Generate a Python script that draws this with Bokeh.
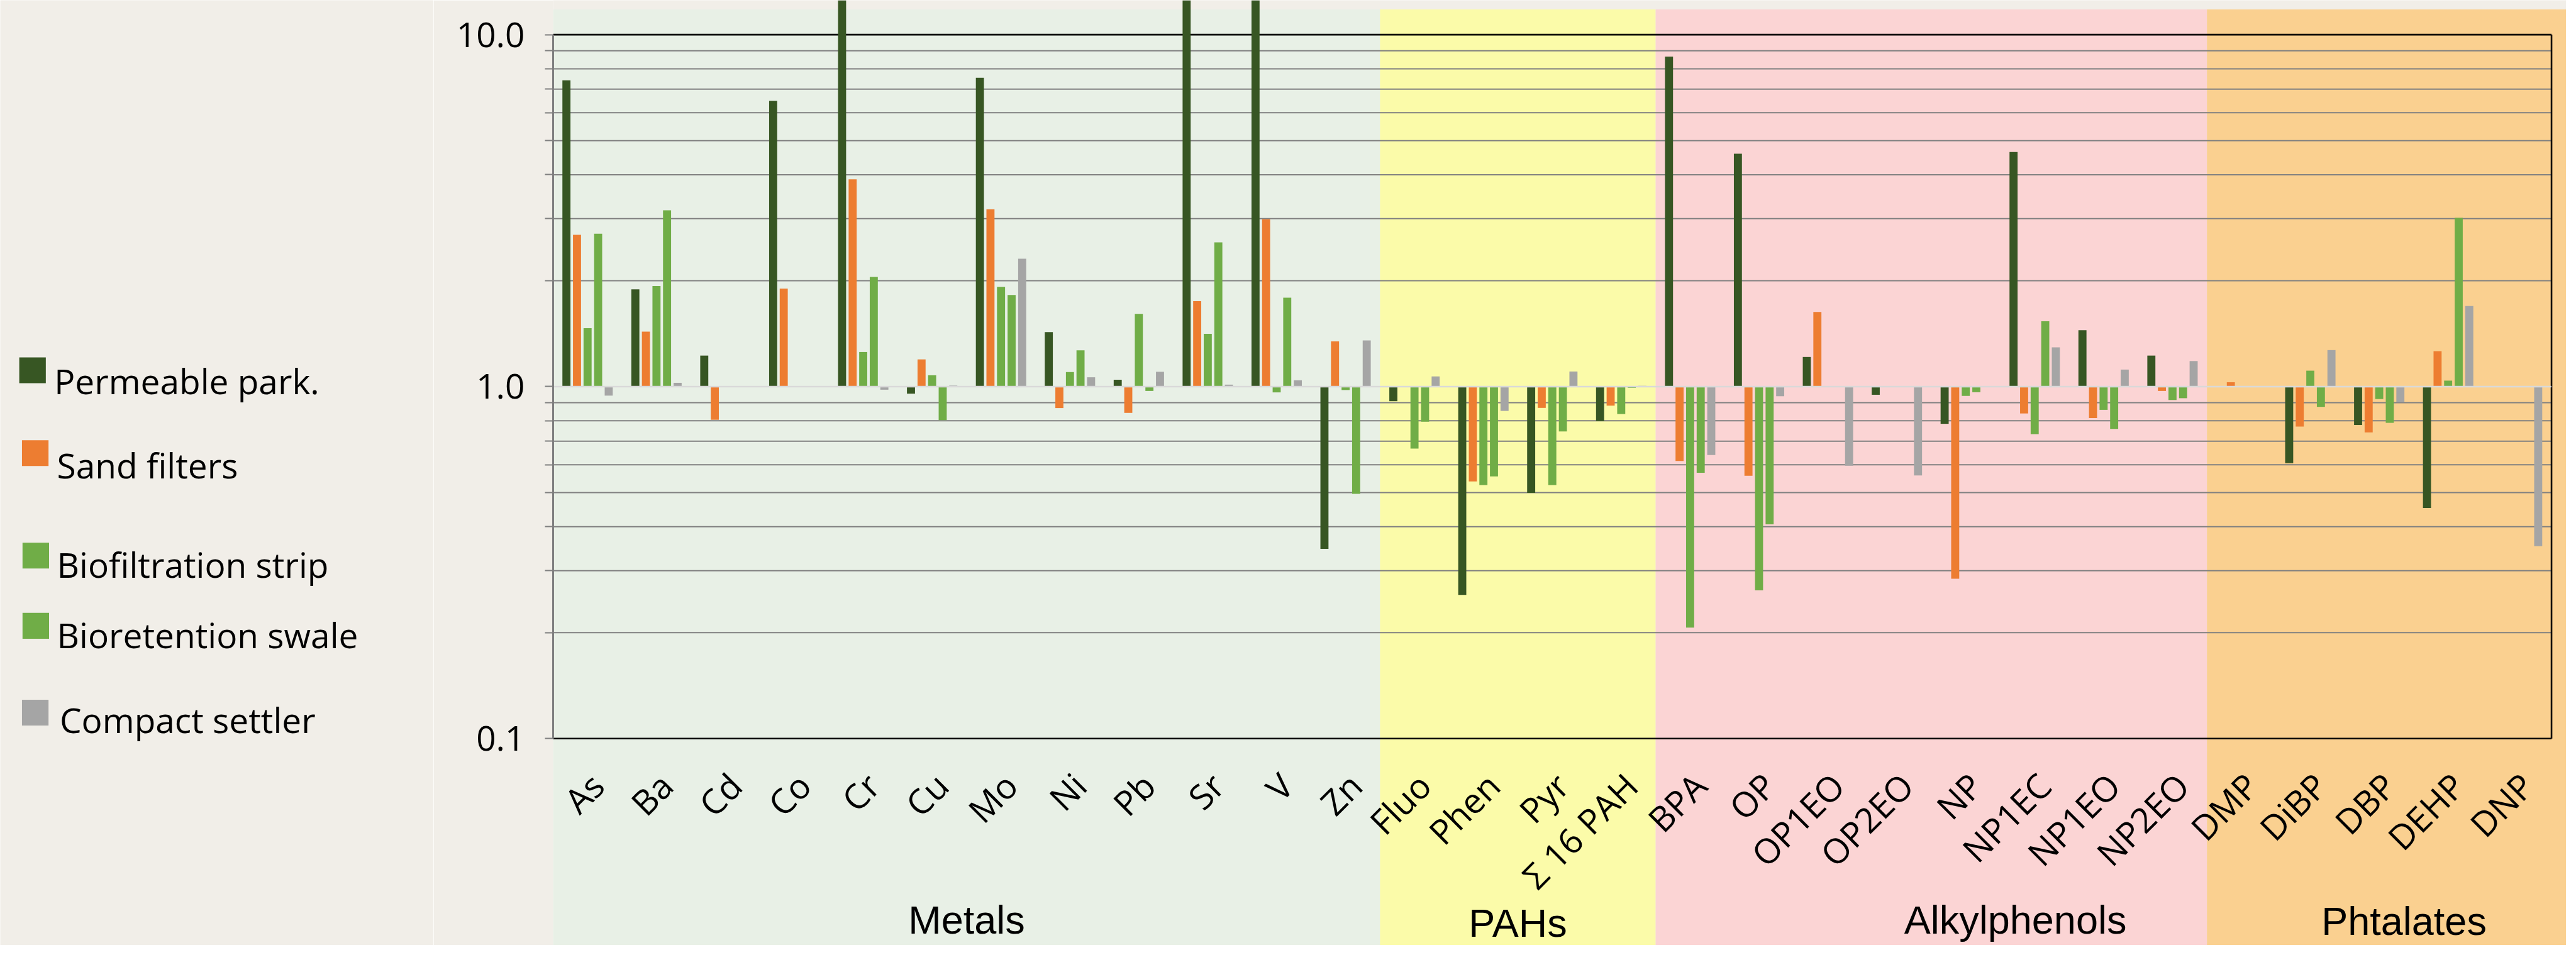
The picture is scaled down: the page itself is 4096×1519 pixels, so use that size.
import math
from bokeh.plotting import figure
from bokeh.layouts import row
from bokeh.models import Range1d, FixedTicker, PrintfTickFormatter, ColumnDataSource
from bokeh.embed import file_html
from bokeh.resources import INLINE
from bokeh.core.properties import value

# ---------------- data ----------------
groups = ["Metals", "PAHs", "Alkylphenols", "Phtalates"]
metals = ["As", "Ba", "Cd", "Co", "Cr", "Cu", "Mo", "Ni", "Pb", "Sr", "V", "Zn"]
pahs = ["Fluo", "Phen", "Pyr", "Σ 16 PAH"]
alkylphenols = ["BPA", "OP", "OP1EO", "OP2EO", "NP", "NP1EC", "NP1EO", "NP2EO"]
phtalates = ["DMP", "DiBP", "DBP", "DEHP", "DNP"]
compounds = metals + pahs + alkylphenols + phtalates

series = ["Permeable park.", "Sand filters", "Biofiltration strip",
          "Bioretention swale", "Compact settler"]
colors = ["#375623", "#ED7D31", "#70AD47", "#70AD47", "#A5A5A5"]

# ratio values (None = no bar); bars above ~12.5 run off the top of the picture
permeable = [7.42, 1.89, 1.225, 6.48, 15.0, 0.955, 7.54, 1.428, 1.046, 15.0, 15.0, 0.346,
             0.909, 0.256, 0.499, 0.798,
             8.66, 4.59, 1.214, 0.948, 0.784, 4.64, 1.446, 1.225,
             None, 0.606, 0.778, 0.452, None]
sand = [2.70, 1.433, 0.805, 1.90, 3.88, 1.195, 3.19, 0.869, 0.842, 1.75, 2.99, 1.345,
        None, 0.538, 0.870, 0.883,
        0.615, 0.558, 1.63, None, 0.2846, 0.839, 0.814, 0.972,
        1.029, 0.770, 0.741, 1.261, None]
biofiltration = [1.465, 1.93, None, None, 1.254, 1.077, 1.92, 1.10, 1.61, 1.413, 0.963, 0.978,
                 0.667, 0.525, 0.525, 0.836,
                 0.2066, 0.2636, None, None, 0.941, 0.733, 0.859, 0.916,
                 None, 1.11, 0.922, 1.040, None]
bioretention = [2.72, 3.17, None, None, 2.05, 0.803, 1.82, 1.268, 0.972, 2.57, 1.79, 0.496,
                0.795, 0.556, 0.746, 0.992,
                0.569, 0.406, None, None, 0.964, 1.534, 0.758, 0.927,
                None, 0.876, 0.789, 3.018, None]
settler = [0.943, 1.025, None, None, 0.98, 1.007, 2.31, 1.063, 1.102, 1.013, 1.042, 1.353,
           1.069, 0.853, 1.104, 1.005,
           0.639, 0.939, 0.596, 0.559, None, 1.293, 1.118, 1.182,
           None, 1.27, 0.902, 1.694, 0.352]
all_series = [permeable, sand, biofiltration, bioretention, settler]

y_major = [0.1, 1.0, 10.0]
y_minor = [0.2, 0.3, 0.4, 0.5, 0.6, 0.7, 0.8, 0.9, 2, 3, 4, 5, 6, 7, 8, 9]

band_colors = ["#E8F0E6", "#FBFBA9", "#FBD4D4", "#FAD090"]

# ---------------- geometry ----------------
W, H = 4080, 1503
SX, SY = W / 4737, H / 1757
BG = "#F1EEE8"
FONT = "Open Sans"

LEFT_W = round(800 * SX)
MAIN_W = W - LEFT_W
AXIS_BORDER = round(1021 * SX) - LEFT_W

n_cat = len(compounds)
x_end = 29.214               # plot extends a little past the last category
y_lo, y_hi = 0.02587, 12.52  # log range covering the whole picture height

# ---------------- legend figure ----------------
pl = figure(width=LEFT_W, height=H, x_range=Range1d(0, 800), y_range=Range1d(1757, 0),
            toolbar_location=None, output_backend="svg",
            x_axis_location=None, y_axis_location=None, min_border=0)
pl.xgrid.visible = False
pl.ygrid.visible = False
pl.background_fill_color = BG
pl.border_fill_color = BG
pl.outline_line_color = None

leg_marker_x = [59.5, 64.5, 65.5, 65.5, 64.5]
leg_marker_y = [688, 842, 1032.5, 1163, 1324.5]
leg_text_x = [99.5, 104.6, 104.6, 104.6, 109.7]
leg_text_y = [707, 864, 1049, 1180, 1337]
pl.rect(x=leg_marker_x, y=leg_marker_y, width=49, height=48,
        fill_color=colors, line_color=None)
pl.text(x=leg_text_x, y=leg_text_y, text=series, text_font=value(FONT),
        text_font_size="55px", text_color="black",
        text_align="left", text_baseline="alphabetic")

# ---------------- main figure ----------------
p = figure(width=MAIN_W, height=H, x_range=Range1d(0, x_end),
           y_range=Range1d(y_lo, y_hi), y_axis_type="log",
           toolbar_location=None, output_backend="svg",
           x_axis_location=None, y_axis_location="left", min_border=0)
p.min_border_left = AXIS_BORDER
p.xgrid.visible = False
p.ygrid.visible = False
p.background_fill_color = BG
p.border_fill_color = BG
p.outline_line_color = None

ax = p.yaxis[0]
ax.ticker = FixedTicker(ticks=y_major, minor_ticks=y_minor)
ax.formatter = PrintfTickFormatter(format="%.1f")
ax.bounds = (0.1, 10)
ax.axis_line_color = "#7F7F7F"
ax.axis_line_width = 3
ax.major_tick_line_color = "#7F7F7F"
ax.major_tick_line_width = 2
ax.major_tick_out = 13
ax.major_tick_in = 0
ax.minor_tick_line_color = "#7F7F7F"
ax.minor_tick_line_width = 2
ax.minor_tick_out = 13
ax.minor_tick_in = 0
ax.major_label_text_font = FONT
ax.major_label_text_font_size = "55px"
ax.major_label_text_color = "black"
ax.major_label_standoff = 32

# group background bands
sizes = [len(metals), len(pahs), len(alkylphenols), len(phtalates)]
lefts, rights = [], []
acc = 0
for s in sizes:
    lefts.append(acc)
    acc += s
    rights.append(acc)
rights[-1] = x_end
p.quad(left=lefts, right=rights, bottom=y_lo * 0.5, top=11.8,
       fill_color=band_colors, line_color=None, level="image")

# gridlines
p.segment(x0=0, x1=n_cat, y0=y_minor, y1=y_minor, line_color="#808080", line_width=2)
# plot-area border: top (10), bottom (0.1), right
p.segment(x0=[0, 0, n_cat], x1=[n_cat, n_cat, n_cat], y0=[10, 0.1, 0.1], y1=[10, 0.1, 10],
          line_color="black", line_width=2.6)

# bars
pitch, bar_w = 0.1534, 0.117
for k, (vals, col) in enumerate(zip(all_series, colors)):
    xs, tops = [], []
    for i, v in enumerate(vals):
        if v is None:
            continue
        xs.append(i + 0.5 + (k - 2) * pitch)
        tops.append(v)
    src = ColumnDataSource(dict(x=xs, top=tops))
    p.vbar(x="x", top="top", bottom=1.0, width=bar_w, source=src,
           fill_color=col, line_color=None)

# horizontal axis line at 1.0
p.segment(x0=0, x1=n_cat, y0=1.0, y1=1.0, line_color="#D9D9D9", line_width=2.6)

# compound labels (rotated)
p.text(x=[i + 0.5 + 0.14 for i in range(n_cat)], y=0.0767, text=compounds,
       angle=math.pi / 4, text_font=value(FONT), text_font_size="55px",
       text_color="black", text_align="right", text_baseline="middle")

# group labels
p.text(x=[6.0, 14.0, 21.22, 26.86], y=[0.03051, 0.02988, 0.03051, 0.03030], text=groups,
       text_font=value("Liberation Sans"), text_font_size="63px", text_color="black",
       text_align="center", text_baseline="alphabetic")

layout = row(pl, p)
open("out.html", "w").write(file_html(layout, INLINE))
